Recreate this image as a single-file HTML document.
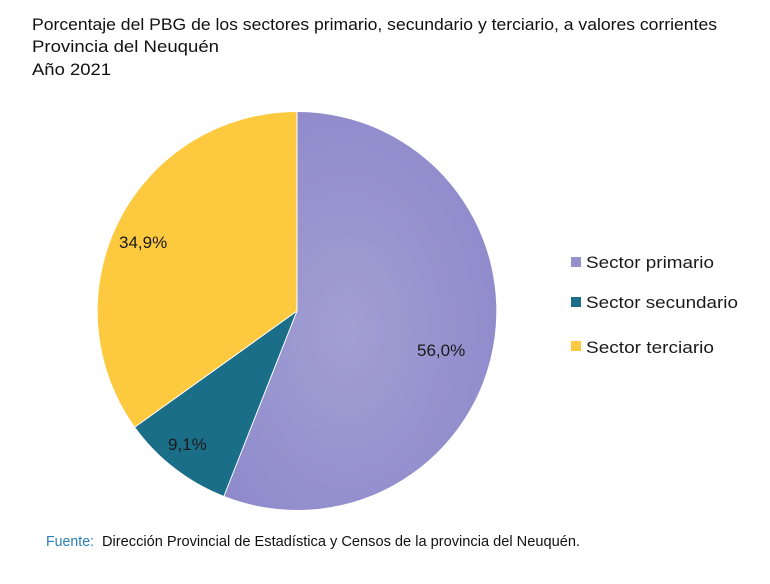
<!DOCTYPE html>
<html><head><meta charset="utf-8"><style>
body{margin:0;background:#fff;}
svg{display:block;font-family:"Liberation Sans",sans-serif;}
</style></head><body>
<svg width="770" height="584" viewBox="0 0 770 584">
<defs>
<radialGradient id="g" cx="0.45" cy="0.55" r="0.6"><stop offset="0" stop-color="#a29fd3"/><stop offset="1" stop-color="#8f8acb"/></radialGradient>
</defs>
<g fill="#111" font-size="17">
<text x="32" y="30" textLength="685" lengthAdjust="spacingAndGlyphs">Porcentaje del PBG de los sectores primario, secundario y terciario, a valores corrientes</text>
<text x="32" y="52" textLength="187" lengthAdjust="spacingAndGlyphs">Provincia del Neuquén</text>
<text x="32" y="75" textLength="79" lengthAdjust="spacingAndGlyphs">Año 2021</text>
</g>
<path d="M297,311 L297,112 A199,199 0 1,1 224,496 Z" fill="url(#g)"/>
<path d="M297,311 L224,496 A199,199 0 0,1 135,427 Z" fill="#1a6e88"/>
<path d="M297,311 L135,427 A199,199 0 0,1 297,112 Z" fill="#fdc93f"/>
<line x1="297" y1="311" x2="297" y2="112" stroke="#fff" stroke-width="1"/>
<line x1="297" y1="311" x2="224" y2="496" stroke="#fff" stroke-width="1"/>
<line x1="297" y1="311" x2="135" y2="427" stroke="#fff" stroke-width="1"/>
<g font-size="17" fill="#1a1a1a">
<text x="119" y="248">34,9%</text>
<text x="417" y="356">56,0%</text>
<text x="168" y="450">9,1%</text>
</g>
<rect x="571" y="257" width="10" height="10" fill="#9590cc"/>
<rect x="571" y="297" width="10" height="10" fill="#1a6e88"/>
<rect x="571" y="341" width="10" height="10" fill="#fdc93f"/>
<g font-size="17" fill="#1a1a1a">
<text x="586" y="268" textLength="128" lengthAdjust="spacingAndGlyphs">Sector primario</text>
<text x="586" y="308" textLength="152" lengthAdjust="spacingAndGlyphs">Sector secundario</text>
<text x="586" y="353" textLength="128" lengthAdjust="spacingAndGlyphs">Sector terciario</text>
</g>
<text x="46" y="546" font-size="15" fill="#2a7fb8" textLength="48" lengthAdjust="spacingAndGlyphs">Fuente:</text>
<text x="102" y="546" font-size="15" fill="#111" textLength="478" lengthAdjust="spacingAndGlyphs">Dirección Provincial de Estadística y Censos de la provincia del Neuquén.</text>
</svg>
</body></html>
